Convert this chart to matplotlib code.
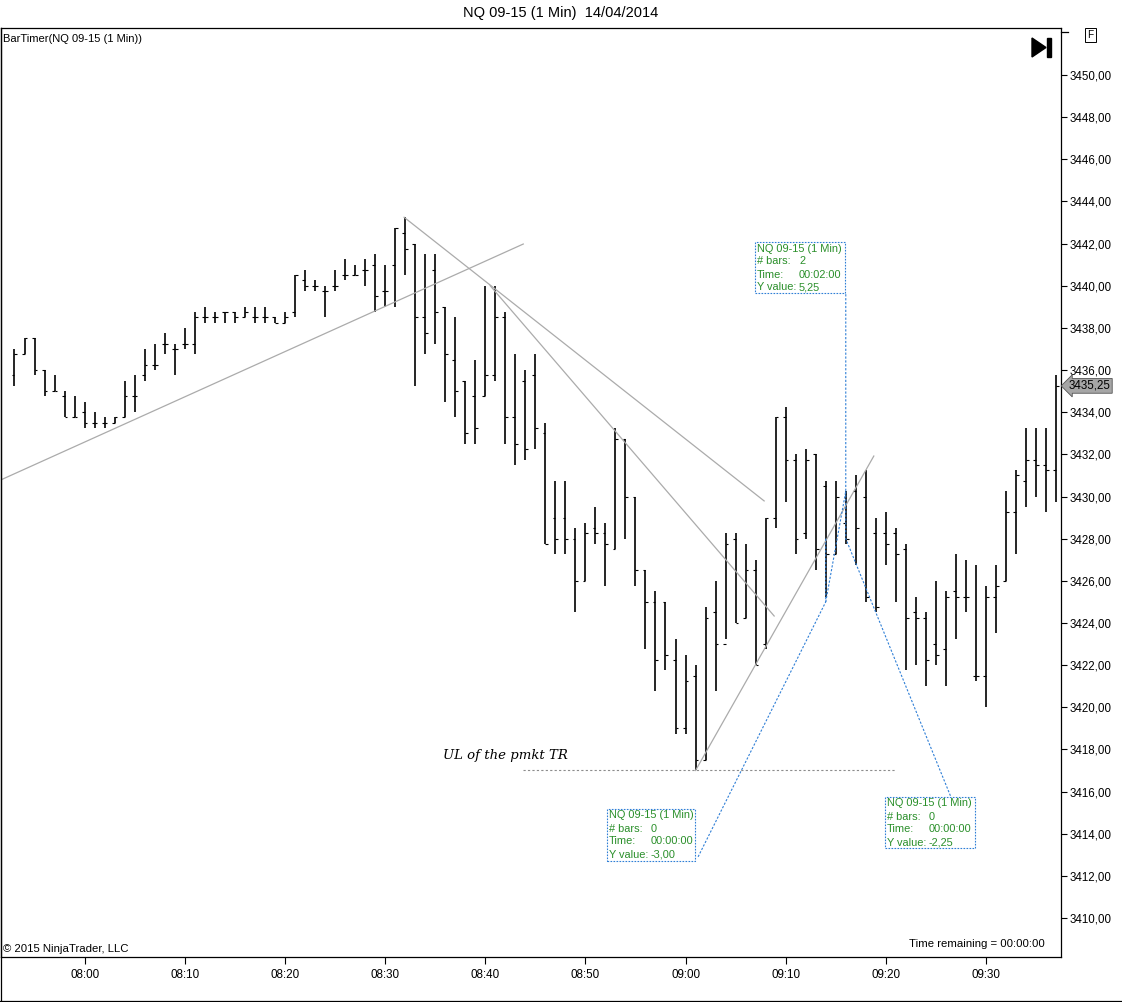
import numpy as np
import pandas as pd
import matplotlib
matplotlib.use('Agg')
import matplotlib.pyplot as plt
from matplotlib.patches import Rectangle, Polygon
from matplotlib.transforms import blended_transform_factory

plt.rcParams['font.family'] = ['Liberation Sans', 'DejaVu Sans']

# NQ 09-15, 1 minute bars starting 07:53
start_time = '2014-04-14 07:53'
opens = [3435.75, 3436.75, 3437.5, 3436.0, 3435.0, 3434.75, 3433.75, 3434.0, 3433.5, 3433.5,
         3433.5, 3433.75, 3434.75, 3435.75, 3436.25, 3437.25, 3437.0, 3437.25, 3437.25, 3438.5,
         3438.5, 3438.75, 3438.75, 3438.5, 3438.5, 3438.5, 3438.5, 3438.25, 3438.75, 3440.25,
         3440.0, 3439.75, 3440.0, 3440.5, 3440.5, 3440.75, 3441.0, 3439.75, 3441.0, 3442.5,
         3442.0, 3438.5, 3440.75, 3439.0, 3436.5, 3435.5, 3434.75, 3434.75, 3435.75, 3438.5,
         3433.75, 3435.5, 3435.75, 3433.0, 3429.0, 3429.0, 3428.0, 3426.0, 3428.5, 3428.25,
         3427.5, 3432.75, 3430.0, 3426.5, 3425.0, 3425.0, 3422.25, 3419.0, 3421.5, 3417.5,
         3424.5, 3423.0, 3428.0, 3424.25, 3426.5, 3423.0, 3429.0, 3433.75, 3431.75, 3428.25,
         3432.0, 3430.5, 3427.25, 3428.75, 3430.25, 3430.0, 3428.25, 3428.25, 3428.25, 3427.5,
         3424.5, 3424.25, 3423.0, 3422.75, 3425.5, 3425.25, 3421.5, 3421.5, 3425.25, 3426.0,
         3429.25, 3430.75, 3431.75, 3431.5, 3431.25]
highs = [3437.0, 3437.5, 3437.5, 3436.0, 3435.75, 3435.0, 3434.75, 3434.5, 3434.0, 3433.75,
         3433.75, 3435.5, 3435.75, 3437.0, 3437.25, 3437.75, 3437.25, 3438.0, 3438.75, 3439.0,
         3438.75, 3438.75, 3438.75, 3439.0, 3439.0, 3439.0, 3438.5, 3438.75, 3440.5, 3440.75,
         3440.25, 3440.0, 3440.75, 3441.25, 3441.0, 3441.25, 3441.5, 3441.0, 3442.75, 3443.25,
         3442.0, 3441.5, 3441.5, 3439.0, 3438.5, 3435.5, 3436.5, 3440.0, 3440.0, 3438.75,
         3436.75, 3436.0, 3436.75, 3433.5, 3430.75, 3430.75, 3428.5, 3428.75, 3429.5, 3428.75,
         3433.25, 3432.75, 3430.0, 3426.5, 3425.5, 3425.0, 3423.25, 3422.5, 3422.0, 3424.75,
         3426.0, 3428.25, 3428.25, 3427.75, 3427.0, 3429.0, 3433.75, 3434.25, 3432.0, 3432.25,
         3432.0, 3430.75, 3430.75, 3430.25, 3431.0, 3431.25, 3429.0, 3429.25, 3428.5, 3427.75,
         3425.25, 3424.5, 3426.0, 3425.5, 3427.25, 3427.0, 3426.75, 3425.75, 3426.75, 3430.25,
         3431.25, 3433.25, 3433.25, 3433.25, 3435.75]
lows = [3435.25, 3436.75, 3435.75, 3434.75, 3435.0, 3433.75, 3433.75, 3433.25, 3433.25, 3433.25,
        3433.5, 3433.75, 3434.0, 3435.5, 3436.0, 3436.75, 3435.75, 3437.0, 3436.75, 3438.25,
        3438.25, 3438.25, 3438.25, 3438.5, 3438.25, 3438.25, 3438.25, 3438.25, 3438.5, 3439.75,
        3439.75, 3438.5, 3439.75, 3440.25, 3440.5, 3440.0, 3438.75, 3439.0, 3439.0, 3440.5,
        3435.25, 3436.75, 3437.25, 3434.5, 3433.75, 3432.5, 3432.5, 3434.75, 3435.5, 3432.5,
        3431.5, 3431.75, 3432.25, 3427.75, 3427.25, 3427.25, 3424.5, 3426.0, 3427.75, 3425.75,
        3427.5, 3428.0, 3425.75, 3422.75, 3420.75, 3421.75, 3418.75, 3418.75, 3417.0, 3417.5,
        3420.75, 3423.25, 3424.0, 3424.25, 3422.0, 3422.75, 3428.5, 3429.75, 3427.25, 3428.0,
        3426.5, 3425.25, 3427.25, 3427.75, 3426.75, 3425.0, 3424.5, 3426.75, 3425.0, 3421.75,
        3422.0, 3421.0, 3422.0, 3421.0, 3423.25, 3424.5, 3421.25, 3420.0, 3423.5, 3426.0,
        3427.25, 3429.5, 3430.0, 3429.25, 3429.75]
closes = [3436.75, 3437.5, 3436.0, 3435.0, 3435.0, 3433.75, 3433.75, 3433.5, 3433.5, 3433.5,
          3433.75, 3434.75, 3434.75, 3436.25, 3436.25, 3437.25, 3437.0, 3437.25, 3438.5, 3438.5,
          3438.5, 3438.75, 3438.5, 3438.75, 3438.5, 3438.5, 3438.25, 3438.5, 3440.5, 3440.0,
          3440.0, 3439.75, 3440.0, 3440.5, 3440.5, 3440.75, 3439.5, 3439.75, 3442.75, 3441.75,
          3438.5, 3437.75, 3438.75, 3436.75, 3435.0, 3433.0, 3433.25, 3435.75, 3438.5, 3433.75,
          3432.5, 3432.25, 3433.25, 3427.75, 3428.0, 3428.0, 3426.0, 3428.25, 3428.25, 3427.75,
          3432.75, 3430.0, 3426.5, 3425.0, 3422.25, 3422.5, 3419.0, 3421.25, 3417.5, 3424.25,
          3423.0, 3427.75, 3424.0, 3426.5, 3422.0, 3429.0, 3433.75, 3431.75, 3428.0, 3431.75,
          3427.5, 3427.25, 3430.0, 3428.0, 3428.5, 3425.25, 3424.75, 3427.75, 3427.25, 3424.25,
          3424.25, 3422.25, 3422.5, 3425.25, 3425.25, 3425.25, 3421.5, 3425.25, 3425.75, 3429.25,
          3431.0, 3431.75, 3431.5, 3431.25, 3435.25]

# hand drawn trend lines: (bar index, price) pairs
trend_lines = [[(-1.4, 3430.78), (50.8, 3441.98)],
               [(38.9, 3443.25), (74.85, 3429.79)],
               [(47.5, 3440.0), (75.85, 3424.33)],
               [(68.0, 3417.0), (85.8, 3431.92)]]
ul_line = [(50.8, 3417.0), (87.9, 3417.0)]
ul_text = 'UL of the pmkt TR'

# rulers: start point, end point, text anchor (bar index, price)
ruler_pts = [[(81, 3428.0), (81, 3425.0), (68.2, 3412.85)],
             [(81, 3425.0), (83, 3430.25), (83, 3439.66)],
             [(83, 3430.25), (83, 3428.0), (93.5, 3415.74)]]
ruler_bars = [0, 2, 0]
ruler_time = ['00:00:00', '00:02:00', '00:00:00']
ruler_dy = [-3.00, 5.25, -2.25]
# text boxes in pixels (left, top, right, bottom)
ruler_boxes = [(607, 809, 695, 861), (755, 242, 845, 293), (885, 797, 975, 848)]

times = pd.date_range(start_time, periods=len(opens), freq='min')
x = np.arange(len(opens))

W, H = 1122, 1002
fig = plt.figure(figsize=(W / 100, H / 100), dpi=100)
fig.patch.set_facecolor('white')

def fx(px):
    return px / W

def fy(py):
    return 1 - py / H

ax = fig.add_axes([fx(0.5), fy(957), fx(1061) - fx(0.5), fy(28) - fy(957)])
ax.set_xlim(-1.397, 104.49)
ax.set_ylim(3408.15, 3452.23)

# OHLC bars
ax.vlines(x, lows, highs, color='black', lw=1.2)
ax.hlines(opens, x - 0.28, x, color='black', lw=0.8)
ax.hlines(closes, x, x + 0.28, color='black', lw=0.8)

for p0, p1 in trend_lines:
    ax.plot([p0[0], p1[0]], [p0[1], p1[1]], color='#ababab', lw=0.9)
ax.plot([ul_line[0][0], ul_line[1][0]], [ul_line[0][1], ul_line[1][1]],
        color='#8c8c8c', lw=0.8, ls=(0, (2, 2)))
ax.text(42.8, 3417.7, ul_text, family='DejaVu Serif', style='italic', fontsize=9.5,
        va='center', ha='left')

blue = '#2f7fd6'
for pts in ruler_pts:
    xs = [p[0] for p in pts]
    ys = [p[1] for p in pts]
    ax.plot(xs, ys, color=blue, lw=0.8, ls=(0, (2, 1.5)))

green = '#2a8f2a'
for (x0, y0, x1, y1), nb, tm, dy in zip(ruler_boxes, ruler_bars, ruler_time, ruler_dy):
    fig.add_artist(Rectangle((fx(x0), fy(y1)), (x1 - x0) / W, (y1 - y0) / H,
                             transform=fig.transFigure, fill=False, ec=blue,
                             lw=0.8, ls=(0, (1.5, 1.2))))
    labels = ['NQ 09-15 (1 Min)', '# bars:', 'Time:', 'Y value:']
    vals = ['', str(nb), tm, f'{dy:.2f}'.replace('.', ',')]
    for k in range(4):
        yy = fy(y0 + 6.5 + 13 * k)
        fig.text(fx(x0 + 2), yy, labels[k], fontsize=7.9, color=green, va='center')
        if vals[k]:
            fig.text(fx(x0 + 44), yy, vals[k], fontsize=7.9, color=green, va='center')

# axes styling
for s in ax.spines.values():
    s.set_color('black')
    s.set_linewidth(0.9)
ax.yaxis.tick_right()
yt = np.arange(3410, 3451, 2)
ax.set_yticks(yt)
ax.set_yticklabels([f'{v:.2f}'.replace('.', ',') for v in yt])
ax.tick_params(axis='y', direction='out', length=4, width=0.8, labelsize=8.3, pad=2)
xt = [i for i in x if times[i].minute % 10 == 0]
ax.set_xticks(xt)
ax.set_xticklabels([times[i].strftime('%H:%M') for i in xt])
ax.tick_params(axis='x', direction='out', length=5, width=0.8, labelsize=8.4, pad=4)

# last price marker
tr = blended_transform_factory(ax.transAxes, ax.transData)
ax.text(1.0075, closes[-1], f'{closes[-1]:.2f}'.replace('.', ','), transform=tr,
        fontsize=8.3, va='center', ha='left', clip_on=False,
        bbox=dict(boxstyle='larrow,pad=0.12', fc='#a6a6a6', ec='#555555', lw=0.6))

# texts around the chart
fig.text(0.5, fy(13), 'NQ 09-15 (1 Min)  14/04/2014', ha='center', va='center', fontsize=10.5)
fig.text(fx(3), fy(39), 'BarTimer(NQ 09-15 (1 Min))', ha='left', va='center', fontsize=8)
fig.text(fx(3), fy(949), '\u00a9 2015 NinjaTrader, LLC', ha='left', va='center', fontsize=8.2)
fig.text(fx(1045), fy(944), 'Time remaining = 00:00:00', ha='right', va='center', fontsize=8.2)
fig.text(fx(1090.5), fy(35), 'F', ha='center', va='center', fontsize=7.2,
         bbox=dict(boxstyle='square,pad=0.22', fc='white', ec='black', lw=0.7))

# go-to-end icon
fig.add_artist(Polygon([(fx(1032), fy(38)), (fx(1032), fy(57)), (fx(1046), fy(47.5))],
                       closed=True, transform=fig.transFigure, fc='black', ec='black'))
fig.add_artist(Rectangle((fx(1047), fy(57)), 4 / W, 19 / H, transform=fig.transFigure,
                         fc='black', ec='black'))

# outer frame and axis bracket
fig.add_artist(plt.Line2D([fx(0.5), fx(0.5)], [fy(28), fy(1001)], transform=fig.transFigure,
                          color='black', lw=0.9))
fig.add_artist(plt.Line2D([fx(0), fx(1122)], [fy(1000.5), fy(1000.5)], transform=fig.transFigure,
                          color='black', lw=0.9))
fig.add_artist(plt.Line2D([fx(1061), fx(1068)], [fy(32), fy(32)], transform=fig.transFigure,
                          color='black', lw=0.9))

fig.savefig('out.png', dpi=100)
